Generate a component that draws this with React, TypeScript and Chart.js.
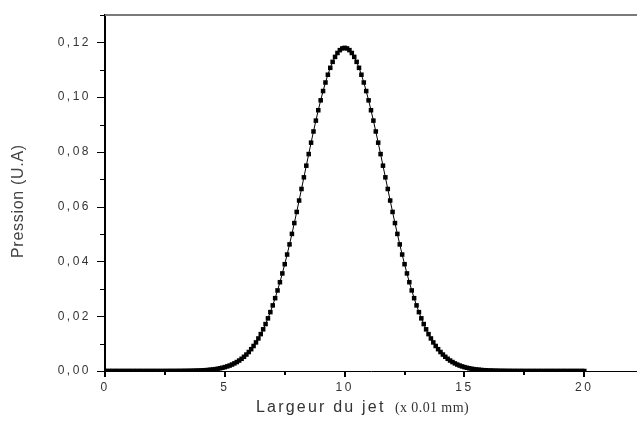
import React, { useEffect, useRef } from 'react';
import { Chart, registerables } from 'chart.js';

Chart.register(...registerables);

// sampling grid of the profile: x from 0 to 20 step 0.1 (units of 0.01 mm)
const X_START = 0;
const X_STEP = 0.1;

const pressure = [
  0, 0, 0, 0, 0, 0, 0, 0, 0, 0,
  0, 0, 0, 0, 0, 0, 0, 0, 0, 0,
  0, 0, 0, 0, 0, 0,
  0.00001, 0.00001, 0.00001, 0.00001,
  0.00002, 0.00002, 0.00003, 0.00004, 0.00005, 0.00006, 0.00008, 0.0001, 0.00013, 0.00016,
  0.0002, 0.00025, 0.0003, 0.00037, 0.00046, 0.00056, 0.00067, 0.00081, 0.00098, 0.00118,
  0.00141, 0.00168, 0.00199, 0.00236, 0.00278, 0.00327, 0.00382, 0.00446, 0.00519, 0.00601,
  0.00693, 0.00797, 0.00914, 0.01044, 0.01188, 0.01347, 0.01522, 0.01714, 0.01923, 0.0215,
  0.02396, 0.0266, 0.02942, 0.03243, 0.03563, 0.039, 0.04253, 0.04623, 0.05006, 0.05402,
  0.05809, 0.06225, 0.06647, 0.07072, 0.07498, 0.07921, 0.08338, 0.08747, 0.09143, 0.09523,
  0.09884, 0.10223, 0.10535, 0.10819, 0.11071, 0.11289, 0.1147, 0.11613, 0.11717, 0.11779,
  0.118,
  0.11779, 0.11717, 0.11613, 0.1147, 0.11289, 0.11071, 0.10819, 0.10535, 0.10223,
  0.09884, 0.09523, 0.09143, 0.08747, 0.08338, 0.07921, 0.07498, 0.07072, 0.06647, 0.06225,
  0.05809, 0.05402, 0.05006, 0.04623, 0.04253, 0.039, 0.03563, 0.03243, 0.02942, 0.0266,
  0.02396, 0.0215, 0.01923, 0.01714, 0.01522, 0.01347, 0.01188, 0.01044, 0.00914, 0.00797,
  0.00693, 0.00601, 0.00519, 0.00446, 0.00382, 0.00327, 0.00278, 0.00236, 0.00199, 0.00168,
  0.00141, 0.00118, 0.00098, 0.00081, 0.00067, 0.00056, 0.00046, 0.00037, 0.0003, 0.00025,
  0.0002, 0.00016, 0.00013, 0.0001, 0.00008, 0.00006, 0.00005, 0.00004, 0.00003, 0.00002,
  0.00002, 0.00001, 0.00001, 0.00001, 0.00001,
  0, 0, 0, 0, 0, 0, 0, 0, 0, 0,
  0, 0, 0, 0, 0, 0, 0, 0, 0, 0,
  0, 0, 0, 0, 0, 0,
];

const xTickValues = [0, 2.5, 5, 7.5, 10, 12.5, 15, 17.5, 20];
const xLabelValues = [0, 5, 10, 15, 20];
const yTickValues = [0, 0.01, 0.02, 0.03, 0.04, 0.05, 0.06, 0.07, 0.08, 0.09, 0.1, 0.11, 0.12, 0.13];
const yLabelValues = [0, 0.02, 0.04, 0.06, 0.08, 0.1, 0.12];

const X_MIN = 0;
const X_MAX = 22.2;
const Y_MIN = 0;
const Y_MAX = 0.13;

const xTitle = 'Largeur du jet';
const xUnit = '(x 0.01 mm)';
const yTitle = 'Pression (U.A)';

const isIn = (list: number[], v: number) => list.some((l) => Math.abs(l - v) < 1e-9);

export default function App() {
  const ref = useRef<HTMLCanvasElement | null>(null);

  useEffect(() => {
    document.body.style.margin = '0';
    const canvas = ref.current;
    if (!canvas) return;

    const points = pressure.map((y, i) => ({ x: +(X_START + i * X_STEP).toFixed(1), y }));

    const decorPlugin = {
      id: 'decor',
      beforeDraw(chart: any) {
        chart.ctx.letterSpacing = '2.5px';
      },
      afterDraw(chart: any) {
        const ctx = chart.ctx;
        const { left, top, bottom } = chart.chartArea;
        const xs = chart.scales.x;
        const ys = chart.scales.y;
        ctx.save();
        // top frame line
        ctx.strokeStyle = '#7a7a7a';
        ctx.lineWidth = 2;
        ctx.beginPath();
        ctx.moveTo(left, top);
        ctx.lineTo(chart.width, top);
        ctx.stroke();
        // y tick marks
        ctx.strokeStyle = '#000';
        ctx.lineWidth = 1;
        yTickValues.forEach((v) => {
          const py = Math.round(ys.getPixelForValue(v)) + 0.5;
          const len = isIn(yLabelValues, v) ? 8 : 5;
          ctx.beginPath();
          ctx.moveTo(left - len, py);
          ctx.lineTo(left, py);
          ctx.stroke();
        });
        // x tick marks
        ctx.lineWidth = 2;
        xTickValues.forEach((v) => {
          const px = Math.round(xs.getPixelForValue(v));
          const len = isIn(xLabelValues, v) ? 6 : 4;
          ctx.beginPath();
          ctx.moveTo(px, bottom);
          ctx.lineTo(px, bottom + len);
          ctx.stroke();
        });
        // x title
        ctx.fillStyle = '#333';
        ctx.textBaseline = 'alphabetic';
        ctx.textAlign = 'left';
        ctx.letterSpacing = '2.2px';
        ctx.font = '16px "Liberation Sans", Arial, sans-serif';
        ctx.fillText(xTitle, 256, 412);
        ctx.letterSpacing = '0.4px';
        ctx.font = '14px "Liberation Serif", "Times New Roman", serif';
        ctx.fillText(xUnit, 395, 412);
        // y title
        ctx.translate(23, 258);
        ctx.rotate(-Math.PI / 2);
        ctx.letterSpacing = '0.7px';
        ctx.fillStyle = '#444';
        ctx.font = '16px "Liberation Sans", Arial, sans-serif';
        ctx.fillText(yTitle, 0, 0);
        ctx.restore();
      },
    };

    const chart = new Chart(canvas, {
      type: 'line',
      data: {
        datasets: [
          {
            data: points,
            borderColor: '#000',
            borderWidth: 1,
            backgroundColor: '#000',
            pointStyle: 'rect',
            pointRadius: 3.2,
            pointBorderWidth: 0,
            pointBackgroundColor: '#000',
            fill: false,
            tension: 0,
          },
        ],
      },
      options: {
        responsive: false,
        animation: false,
        events: [],
        layout: { autoPadding: false, padding: { top: 15, right: 0, left: 0, bottom: 0 } },
        plugins: {
          legend: { display: false },
          tooltip: { enabled: false },
          title: { display: false },
        },
        scales: {
          x: {
            type: 'linear',
            min: X_MIN,
            max: X_MAX,
            afterBuildTicks: (scale: any) => {
              scale.ticks = xTickValues.map((v) => ({ value: v }));
            },
            afterFit: (scale: any) => {
              scale.height = 55;
              scale.paddingLeft = 0;
              scale.paddingRight = 0;
            },
            grid: { display: false, drawTicks: false, drawOnChartArea: false },
            border: { display: true, color: '#000', width: 1 },
            ticks: {
              includeBounds: false,
              autoSkip: false,
              maxRotation: 0,
              padding: 9,
              color: '#333',
              font: { family: '"Liberation Sans", Arial, sans-serif', size: 12 },
              callback: (value: any) => (isIn(xLabelValues, Number(value)) ? String(value) : ''),
            },
          },
          y: {
            type: 'linear',
            min: Y_MIN,
            max: Y_MAX,
            afterBuildTicks: (scale: any) => {
              scale.ticks = yTickValues.map((v) => ({ value: v }));
            },
            afterFit: (scale: any) => {
              scale.width = 105;
              scale.paddingTop = 0;
              scale.paddingBottom = 0;
            },
            grid: { display: false, drawTicks: false, drawOnChartArea: false },
            border: { display: true, color: '#000', width: 2 },
            ticks: {
              autoSkip: false,
              padding: 14,
              color: '#333',
              font: { family: '"Liberation Sans", Arial, sans-serif', size: 12 },
              callback: (value: any) =>
                isIn(yLabelValues, Number(value)) ? Number(value).toFixed(2).replace('.', ',') : '',
            },
          },
        },
      },
      plugins: [decorPlugin],
    });

    return () => {
      chart.destroy();
    };
  }, []);

  return (
    <div style={{ width: 637, height: 426, position: 'relative', background: '#fff' }}>
      <canvas ref={ref} width={637} height={426} style={{ display: 'block' }} />
    </div>
  );
}
